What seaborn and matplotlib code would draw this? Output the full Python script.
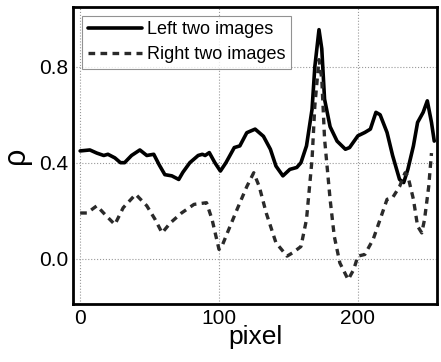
import pandas as pd
import matplotlib
matplotlib.use("Agg")
import matplotlib.pyplot as plt
import seaborn as sns
from matplotlib.ticker import MultipleLocator

# values
left_x = [0, 7, 12, 17, 20, 25, 29, 32, 37, 43, 48, 53, 57, 61, 66, 71, 74, 79, 85, 88,
          90, 93, 97, 101, 105, 111, 115, 120, 126, 132, 137, 141, 146, 151, 156, 159, 163,
          167, 169, 172, 174, 176, 180, 185, 191, 194, 200, 205, 209, 213, 216, 221, 225,
          230, 233, 236, 240, 243, 247, 250, 253, 255]
left_rho = [0.449, 0.453, 0.44, 0.43, 0.435, 0.42, 0.40, 0.40, 0.43, 0.453, 0.43, 0.435,
            0.39, 0.35, 0.345, 0.33, 0.36, 0.40, 0.43, 0.435, 0.43, 0.442, 0.40, 0.365,
            0.40, 0.463, 0.47, 0.525, 0.54, 0.51, 0.456, 0.386, 0.345, 0.372, 0.38, 0.40,
            0.47, 0.623, 0.80, 0.955, 0.875, 0.665, 0.55, 0.49, 0.456, 0.463, 0.512, 0.526,
            0.54, 0.61, 0.60, 0.526, 0.43, 0.33, 0.317, 0.372, 0.47, 0.568, 0.61, 0.658,
            0.568, 0.49]

right_x = [0, 5, 12, 19, 25, 31, 40, 48, 54, 59, 65, 73, 82, 91, 95, 100, 102, 106, 113,
           120, 125, 129, 134, 141, 149, 153, 159, 163, 167, 169, 172, 174, 176, 180, 183,
           187, 193, 197, 200, 205, 211, 216, 221, 225, 230, 234, 236, 240, 243, 246, 248,
           251, 253]
right_rho = [0.19, 0.19, 0.22, 0.177, 0.142, 0.212, 0.268, 0.22, 0.163, 0.107, 0.149,
             0.19, 0.226, 0.233, 0.163, 0.038, 0.05, 0.107, 0.205, 0.30, 0.358, 0.30, 0.19,
             0.066, 0.01, 0.024, 0.05, 0.163, 0.414, 0.637, 0.83, 0.75, 0.50, 0.247, 0.093,
             -0.018, -0.088, -0.046, 0.01, 0.017, 0.08, 0.163, 0.247, 0.254, 0.30, 0.358,
             0.344, 0.247, 0.135, 0.107, 0.163, 0.30, 0.44]

sns.set_style("white")
plt.rcParams['font.family'] = ['Liberation Sans', 'DejaVu Sans']
plt.rcParams['text.color'] = 'black'
plt.rcParams['axes.labelcolor'] = 'black'
plt.rcParams['xtick.color'] = 'black'
plt.rcParams['ytick.color'] = 'black'

fig = plt.figure(figsize=(4.41, 3.62), dpi=100)
ax = fig.add_axes([0.166, 0.16, 0.825, 0.821])

left_df = pd.DataFrame({"pixel": left_x, "rho": left_rho})
right_df = pd.DataFrame({"pixel": right_x, "rho": right_rho})

sns.lineplot(data=left_df, x="pixel", y="rho", ax=ax, color="black", lw=2.6,
             label="Left two images")
sns.lineplot(data=right_df, x="pixel", y="rho", ax=ax, color="#2a2a2a", lw=2.4,
             linestyle=(0, (2, 1.6)), label="Right two images")

ax.set_xlim(-5, 257)
ax.set_ylim(-0.19, 1.05)
ax.xaxis.set_major_locator(MultipleLocator(100))
ax.xaxis.set_minor_locator(MultipleLocator(50))
ax.yaxis.set_minor_locator(MultipleLocator(0.2))
ax.set_yticks([0.0, 0.4, 0.8])
ax.set_yticklabels(["0.0", "0.4", "0.8"])
ax.grid(True, which="major", color="#999999", linestyle=":", linewidth=0.8)
ax.tick_params(which="both", direction="in", top=False, right=False,
               labelsize=15, width=1.5)
ax.tick_params(which="major", length=4)
ax.tick_params(which="minor", length=3)
for s in ax.spines.values():
    s.set_linewidth(2)
    s.set_color("black")

ax.set_xlabel("pixel", fontsize=19, labelpad=-2)
ax.set_ylabel("ρ", fontsize=22, labelpad=6)

leg = ax.legend(loc="upper left", fontsize=13, frameon=True, fancybox=False,
                handlelength=3, borderpad=0.3, labelspacing=0.45,
                borderaxespad=0.5, handletextpad=0.3)
leg.get_frame().set_edgecolor("#777777")
leg.get_frame().set_linewidth(0.8)

fig.savefig("out.png", dpi=100)
